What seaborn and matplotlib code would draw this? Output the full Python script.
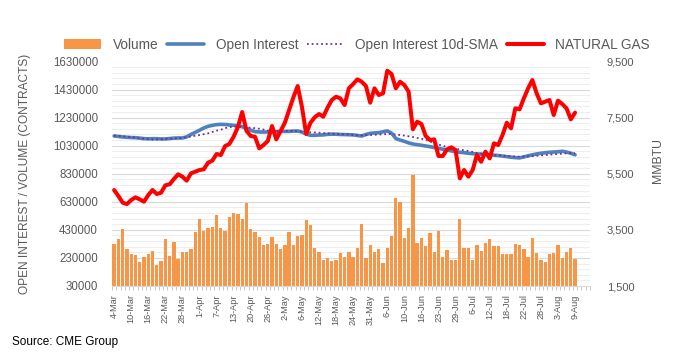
import numpy as np
import pandas as pd
import matplotlib
matplotlib.use("Agg")
import matplotlib.pyplot as plt
from matplotlib.lines import Line2D
from matplotlib.patches import Patch
from matplotlib.ticker import FixedLocator
import seaborn as sns

# Data (one value per trading day)
tick_labels = ['4-Mar', '10-Mar', '16-Mar', '22-Mar', '28-Mar', '1-Apr', '7-Apr', '13-Apr',
               '20-Apr', '26-Apr', '2-May', '6-May', '12-May', '18-May', '24-May', '31-May',
               '6-Jun', '10-Jun', '16-Jun', '23-Jun', '29-Jun', '6-Jul', '12-Jul', '18-Jul',
               '22-Jul', '28-Jul', '3-Aug', '9-Aug']

volume = [329, 363, 434, 291, 258, 249, 201, 234, 256, 277,
          177, 206, 363, 242, 341, 220, 270, 270, 291, 413,
          505, 420, 441, 448, 534, 441, 420, 520, 548, 544,
          505, 624, 434, 415, 377, 322, 329, 377, 329, 294,
          322, 413, 322, 386, 393, 500, 465, 299, 270, 215,
          227, 206, 215, 263, 234, 270, 234, 299, 472, 227,
          320, 270, 291, 192, 299, 386, 657, 627, 370, 441,
          819, 334, 370, 315, 405, 270, 420, 234, 287, 215,
          215, 505, 299, 299, 215, 320, 277, 334, 363, 313,
          313, 256, 256, 256, 327, 320, 291, 234, 370, 263,
          215, 199, 256, 263, 320, 227, 270, 299, 220]
volume = [v * 1000 for v in volume]

open_interest = [1099, 1096, 1092, 1090, 1088, 1087, 1084, 1080, 1079, 1080,
                 1080, 1078, 1078, 1081, 1084, 1085, 1085, 1093, 1110, 1125,
                 1140, 1156, 1168, 1175, 1180, 1182, 1181, 1178, 1175, 1172,
                 1165, 1152, 1141, 1130, 1128, 1127, 1128, 1130, 1130, 1131,
                 1132, 1132, 1134, 1135, 1127, 1113, 1104, 1104, 1106, 1107,
                 1111, 1112, 1112, 1110, 1109, 1108, 1107, 1103, 1099, 1110,
                 1118, 1121, 1123, 1129, 1135, 1120, 1081, 1070, 1061, 1050,
                 1042, 1037, 1033, 1028, 1023, 1017, 1011, 1005, 999, 993,
                 987, 983, 980, 976, 973, 971, 970, 968, 965, 962,
                 960, 956, 952, 948, 945, 943, 950, 958, 965, 971,
                 976, 980, 983, 985, 987, 990, 985, 976, 965]
open_interest = [v * 1000 for v in open_interest]

oi_sma = [1102, 1100, 1097, 1095, 1091, 1087, 1083, 1080, 1077, 1073,
          1074, 1076, 1078, 1080, 1081, 1083, 1086, 1090, 1096, 1101,
          1106, 1112, 1118, 1128, 1137, 1144, 1155, 1162, 1166, 1167,
          1165, 1162, 1158, 1155, 1151, 1145, 1137, 1136, 1135, 1135,
          1135, 1135, 1135, 1132, 1130, 1128, 1125, 1124, 1123, 1120,
          1118, 1116, 1113, 1112, 1111, 1111, 1106, 1105, 1104, 1105,
          1106, 1108, 1109, 1111, 1113, 1113, 1109, 1106, 1102, 1097,
          1092, 1085, 1080, 1071, 1061, 1047, 1038, 1030, 1019, 1014,
          1009, 1002, 997, 992, 985, 978, 973, 970, 966, 963,
          961, 959, 957, 955, 952, 952, 952, 954, 956, 958,
          961, 963, 966, 968, 971, 973, 976, 978, 976]
oi_sma = [v * 1000 for v in oi_sma]

nat_gas = [4920, 4707, 4470, 4420, 4564, 4660, 4588, 4505, 4742, 4920,
           4778, 4825, 5088, 5123, 5312, 5480, 5396, 5254, 5515, 5573,
           5633, 5658, 5893, 5964, 6203, 6167, 6488, 6560, 6820, 7164,
           7699, 7034, 6845, 6820, 6405, 6524, 6666, 7201, 6726, 7023,
           7318, 7771, 8223, 8626, 7889, 6916, 7318, 7511, 7628, 7533,
           7853, 8127, 8245, 8187, 7949, 8544, 8697, 8864, 8780, 8626,
           8032, 8544, 8306, 8365, 9172, 9054, 8544, 8780, 8662, 8425,
           7083, 7354, 7272, 6845, 6702, 6726, 6132, 6132, 6370, 6441,
           6346, 5337, 5633, 5396, 5630, 6167, 5929, 6286, 6048, 6584,
           6524, 6880, 7318, 7118, 7831, 7796, 8187, 8544, 8840, 8365,
           8009, 8068, 8127, 7593, 8104, 7985, 7831, 7440, 7677]

df = pd.DataFrame({
    'day': np.arange(len(volume)),
    'volume': volume,
    'oi': open_interest,
    'sma': oi_sma,
    'gas': nat_gas,
})

sns.set_theme(style="white")
plt.rcParams['font.family'] = ['Liberation Sans', 'DejaVu Sans']

c_vol = '#F79646'
c_oi = '#4F81BD'
c_sma = '#7030A0'
c_gas = '#FF0000'
txt = '#595959'

fig = plt.figure(figsize=(6.83, 3.59), dpi=100)
ax = fig.add_axes([112 / 683, 1 - 286 / 359, 478 / 683, 224.5 / 359])

sns.barplot(data=df, x='day', y='volume', color=c_vol, saturation=1, width=0.78,
            linewidth=0, ax=ax, zorder=2)
sns.lineplot(data=df, x='day', y='oi', color=c_oi, linewidth=2.6, ax=ax, zorder=3)
sns.lineplot(data=df, x='day', y='sma', color=c_sma, linewidth=1.3,
             linestyle=(0, (1, 1.6)), ax=ax, zorder=4)

ax.set_ylim(30000, 1630000)
ax.set_xlim(-0.5, 111.5)
ax.yaxis.set_major_locator(FixedLocator(np.arange(30000, 1630001, 200000)))
ax.yaxis.set_minor_locator(FixedLocator(np.arange(30000, 1630001, 40000)))
ax.grid(which='minor', axis='y', color='#EEEEEE', linewidth=0.8, zorder=0)
ax.grid(which='major', axis='y', color='#D9D9D9', linewidth=0.8, zorder=0)
ax.set_axisbelow(True)
ax.yaxis.set_major_formatter(plt.FuncFormatter(lambda v, p: f'{int(v)}'))
ax.tick_params(axis='y', which='both', length=0, labelsize=8.3, labelcolor=txt, pad=10)

ax.xaxis.set_major_locator(FixedLocator(np.arange(0, len(volume), 4)))
ax.set_xticklabels(tick_labels, rotation=90)
ax.xaxis.set_minor_locator(FixedLocator(np.arange(-0.5, 112, 1)))
ax.tick_params(axis='x', which='major', length=0, labelsize=6.6, labelcolor=txt, pad=6)
ax.tick_params(axis='x', which='minor', length=3, color='#BFBFBF', width=0.6, bottom=True)
ax.set_xlabel('')
ax.set_ylabel('OPEN INTEREST / VOLUME (CONTRACTS)', fontsize=8.6, color=txt)
ax.yaxis.set_label_coords(-0.169, 0.5)
for s in ['top', 'left', 'right']:
    ax.spines[s].set_visible(False)
ax.spines['bottom'].set_color('#D9D9D9')
ax.spines['bottom'].set_linewidth(0.8)

ax2 = ax.twinx()
sns.lineplot(data=df, x='day', y='gas', color=c_gas, linewidth=2.9, ax=ax2, zorder=5)
ax2.set_ylim(1500, 9500)
ax2.set_xlim(-0.5, 111.5)
ax2.yaxis.set_major_locator(FixedLocator(np.arange(1500, 9501, 2000)))
ax2.yaxis.set_major_formatter(plt.FuncFormatter(lambda v, p: f'{int(v):,}'))
ax2.tick_params(axis='y', length=0, labelsize=8, labelcolor=txt, pad=12)
ax2.set_ylabel('MMBTU', fontsize=8.8, color=txt)
ax2.yaxis.set_label_coords(1.13, 0.557)
ax2.grid(False)
for s in ax2.spines.values():
    s.set_visible(False)

handles = [
    Patch(facecolor=c_vol, edgecolor='none'),
    Line2D([0], [0], color=c_oi, linewidth=2.6),
    Line2D([0], [0], color=c_sma, linewidth=1.3, linestyle=(0, (1, 1.6))),
    Line2D([0], [0], color=c_gas, linewidth=2.9),
]
labels = ['Volume', 'Open Interest', 'Open Interest 10d-SMA', 'NATURAL GAS']
fig.legend(handles, labels, loc='center', bbox_to_anchor=(0.523, 0.876), ncol=4,
           frameon=False, fontsize=9.8, handlelength=2.7, handletextpad=0.85,
           columnspacing=0.65, labelcolor=txt)

fig.text(12 / 683, 1 - 342 / 359, 'Source: CME Group', fontsize=8.5, color='black',
         va='center', ha='left')

fig.savefig('out.png', dpi=100)
